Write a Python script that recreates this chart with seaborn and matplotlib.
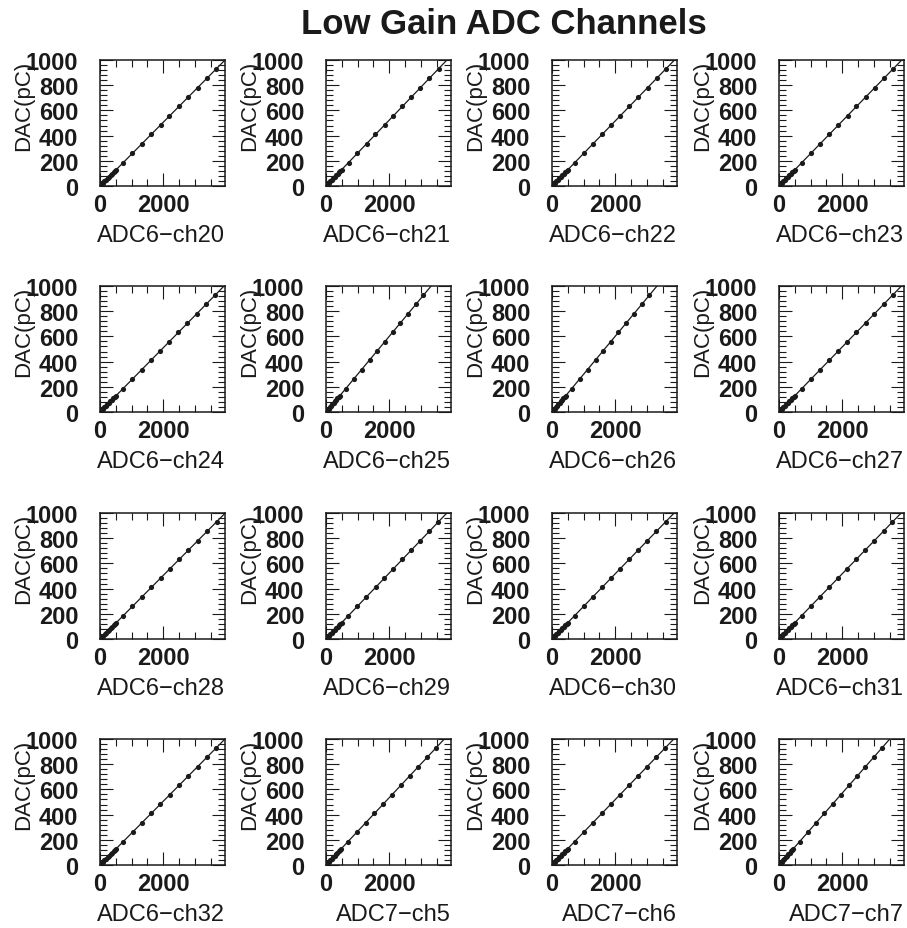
import numpy as np
import pandas as pd
import matplotlib
matplotlib.use("Agg")
import matplotlib.pyplot as plt
from matplotlib.ticker import MultipleLocator
import seaborn as sns

sns.set_theme(style="ticks")
plt.rcParams['font.family'] = ['Liberation Sans', 'DejaVu Sans']
plt.rcParams['font.weight'] = 'bold'
plt.rcParams['text.color'] = 'k'
plt.rcParams['axes.labelcolor'] = 'k'
plt.rcParams['axes.edgecolor'] = 'k'
plt.rcParams['xtick.color'] = 'k'
plt.rcParams['ytick.color'] = 'k'
plt.rcParams['axes.linewidth'] = 1.1

# DAC charge injected (pC), same for every channel
dac = [12, 24, 36, 48, 60, 72, 84, 96, 108, 120, 130,
       186, 260, 334, 409, 483, 557, 631, 706, 780, 855, 929]

ch_names = ["ADC6\u2212ch20", "ADC6\u2212ch21", "ADC6\u2212ch22", "ADC6\u2212ch23",
            "ADC6\u2212ch24", "ADC6\u2212ch25", "ADC6\u2212ch26", "ADC6\u2212ch27",
            "ADC6\u2212ch28", "ADC6\u2212ch29", "ADC6\u2212ch30", "ADC6\u2212ch31",
            "ADC6\u2212ch32", "ADC7\u2212ch5", "ADC7\u2212ch6", "ADC7\u2212ch7"]

# ADC counts read per channel
adc_ch20 = [47, 95, 142, 190, 237, 284, 332, 379, 427, 474, 514,
            738, 1022, 1324, 1611, 1912, 2196, 2499, 2785, 3088, 3372, 3676]
adc_ch21 = [46, 92, 138, 183, 229, 275, 321, 367, 413, 458, 497,
            712, 990, 1280, 1558, 1850, 2124, 2416, 2690, 2986, 3262, 3556]
adc_ch22 = [46, 93, 139, 186, 232, 279, 325, 372, 418, 464, 503,
            723, 1003, 1296, 1579, 1873, 2151, 2447, 2728, 3024, 3303, 3601]
adc_ch23 = [47, 93, 140, 186, 233, 279, 326, 372, 419, 466, 504,
            719, 1013, 1292, 1590, 1870, 2165, 2444, 2743, 3021, 3322, 3600]
adc_ch24 = [47, 94, 141, 188, 235, 282, 329, 376, 423, 470, 510,
            732, 1015, 1313, 1599, 1897, 2179, 2478, 2763, 3062, 3347, 3648]
adc_ch25 = [40, 80, 121, 161, 201, 241, 281, 322, 362, 402, 436,
            640, 890, 1135, 1385, 1625, 1870, 2105, 2345, 2590, 2830, 3060]
adc_ch26 = [40, 80, 121, 161, 201, 241, 281, 322, 362, 402, 436,
            635, 885, 1125, 1375, 1615, 1855, 2090, 2340, 2585, 2835, 3075]
adc_ch27 = [46, 93, 139, 186, 232, 279, 325, 372, 418, 464, 503,
            717, 1010, 1289, 1587, 1865, 2160, 2438, 2737, 3015, 3314, 3590]
adc_ch28 = [48, 95, 143, 190, 238, 285, 333, 380, 428, 475, 515,
            740, 1026, 1327, 1615, 1917, 2201, 2504, 2791, 3094, 3380, 3684]
adc_ch29 = [46, 92, 138, 183, 229, 275, 321, 367, 413, 458, 497,
            709, 995, 1274, 1565, 1842, 2131, 2408, 2701, 2976, 3270, 3547]
adc_ch30 = [46, 93, 139, 185, 232, 278, 324, 371, 417, 463, 502,
            721, 1000, 1293, 1575, 1868, 2146, 2440, 2721, 3015, 3296, 3590]
adc_ch31 = [46, 93, 139, 185, 232, 278, 324, 371, 417, 463, 502,
            715, 1007, 1286, 1582, 1861, 2153, 2433, 2728, 3008, 3303, 3583]
adc_ch32 = [47, 95, 142, 190, 237, 284, 332, 379, 427, 474, 514,
            733, 1029, 1317, 1618, 1905, 2203, 2492, 2792, 3081, 3380, 3669]
adc_ch5 = [45, 90, 135, 180, 224, 269, 314, 359, 404, 449, 486,
           696, 972, 1249, 1530, 1806, 2083, 2360, 2640, 2917, 3198, 3474]
adc_ch6 = [46, 92, 139, 185, 231, 277, 323, 370, 416, 462, 501,
           713, 1004, 1283, 1578, 1857, 2147, 2426, 2721, 3000, 3295, 3574]
adc_ch7 = [42, 84, 126, 168, 210, 252, 294, 336, 378, 420, 455,
           655, 915, 1175, 1435, 1695, 1950, 2210, 2470, 2730, 2990, 3250]

adc_values = [adc_ch20, adc_ch21, adc_ch22, adc_ch23,
              adc_ch24, adc_ch25, adc_ch26, adc_ch27,
              adc_ch28, adc_ch29, adc_ch30, adc_ch31,
              adc_ch32, adc_ch5, adc_ch6, adc_ch7]

W, H = 907.0, 929.0
fig = plt.figure(figsize=(W / 100, H / 100), dpi=100)
fig.patch.set_facecolor('white')

lefts = [100, 326, 552, 779]
tops = [61, 287, 514, 740]
pw, ph = 125, 126

for i, (name, adc) in enumerate(zip(ch_names, adc_values)):
    r, c = divmod(i, 4)
    ax = fig.add_axes([lefts[c] / W, 1 - (tops[r] + ph) / H, pw / W, ph / H])
    ax.set_xlim(0, 3950)
    ax.set_ylim(0, 1000)
    df = pd.DataFrame({'adc': adc, 'dac': dac})
    sns.regplot(data=df, x='adc', y='dac', ax=ax, ci=None, truncate=False,
                color='k', scatter_kws={'s': 14, 'linewidths': 0, 'alpha': 1},
                line_kws={'lw': 0.9})
    ax.set_xlim(0, 3950)
    ax.set_ylim(0, 1000)

    ax.xaxis.set_major_locator(MultipleLocator(2000))
    ax.xaxis.set_minor_locator(MultipleLocator(500))
    ax.yaxis.set_major_locator(MultipleLocator(200))
    ax.yaxis.set_minor_locator(MultipleLocator(40))
    ax.tick_params(which='both', direction='in', top=True, right=True, labelsize=17)
    ax.tick_params(which='major', length=9.4, width=0.8)
    ax.tick_params(which='minor', length=4.7, width=0.8)
    ax.tick_params(axis='y', pad=15.5)
    ax.tick_params(axis='x', pad=5)

    ax.set_xlabel(name, fontsize=17, fontweight='normal', loc='right')
    ax.xaxis.set_label_coords(1.0, -0.30)
    ax.set_ylabel('DAC(pC)', fontsize=16, fontweight='normal', loc='top')
    ax.yaxis.set_label_coords(-0.53, 1.0)

fig.text(503.5 / W, 1 - 34 / H, 'Low Gain ADC Channels', ha='center',
         va='baseline', fontsize=25, fontweight='bold')

fig.savefig('out.png', dpi=100, facecolor='white')
